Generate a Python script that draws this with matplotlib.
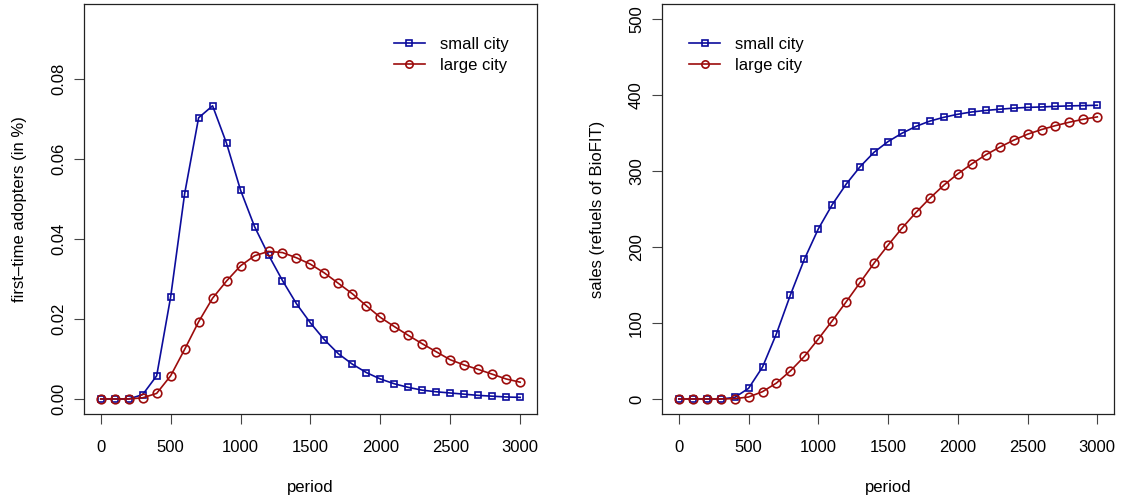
import numpy as np
import matplotlib
matplotlib.use('Agg')
import matplotlib.pyplot as plt

plt.rcParams['font.family'] = ['Liberation Sans', 'DejaVu Sans']
plt.rcParams['font.size'] = 12

period = list(range(0, 3001, 100))

# first-time adopters (in %)
adopt_small = [0.0, 0.0, 0.0, 0.0011, 0.0058, 0.0255, 0.0513, 0.0703, 0.0733, 0.0639,
               0.0522, 0.0431, 0.0360, 0.0296, 0.0238, 0.0190, 0.0148, 0.0113, 0.0087, 0.0066,
               0.0050, 0.0038, 0.0029, 0.0022, 0.0018, 0.0015, 0.0012, 0.0009, 0.0007, 0.0005,
               0.0004]
adopt_large = [0.0, 0.0, 0.0, 0.0003, 0.0014, 0.0058, 0.0124, 0.0193, 0.0252, 0.0295,
               0.0333, 0.0358, 0.0369, 0.0366, 0.0353, 0.0337, 0.0315, 0.0289, 0.0263, 0.0233,
               0.0204, 0.0181, 0.0159, 0.0138, 0.0118, 0.0098, 0.0085, 0.0074, 0.0062, 0.0050,
               0.0042]

# sales (refuels of BioFIT)
sales_small = [0, 0, 0, 0, 2, 14, 42, 86, 137, 184,
               224, 256, 283, 306, 325, 339, 350, 359, 366, 371,
               375, 378, 380, 381.6, 383, 384, 384.6, 385.4, 386, 386.4,
               386.8]
sales_large = [0, 0, 0, 0, 0.5, 2.6, 9.6, 21, 37, 56,
               79, 103, 128, 153.5, 179, 202.6, 225, 245.6, 264.5, 281.6,
               296.5, 309.6, 321.5, 331.6, 340.8, 348.7, 354.8, 360, 364.5, 368.4,
               371.5]

labels = ['small city', 'large city']
blue = '#0C0C9C'
red = '#9C0C0C'

fig = plt.figure(figsize=(11.21, 4.98), dpi=100)
ax1 = fig.add_axes([0.0749, 0.1687, 0.4041, 0.8233])
ax2 = fig.add_axes([0.5906, 0.1687, 0.4032, 0.8233])

def draw(ax, ys, ylim, yticks, yfmt, ylabel, legx):
    ax.plot(period, ys[0], color=blue, lw=1.2, marker='s', ms=5, mfc='none',
            mec=blue, mew=1.2, label=labels[0])
    ax.plot(period, ys[1], color=red, lw=1.2, marker='o', ms=6.2, mfc='none',
            mec=red, mew=1.2, label=labels[1])
    ax.set_xlim(-120, 3120)
    ax.set_ylim(*ylim)
    ax.set_xticks([0, 500, 1000, 1500, 2000, 2500, 3000])
    ax.set_yticks(yticks)
    ax.set_yticklabels([yfmt % v for v in yticks], rotation=90, va='center')
    ax.tick_params(direction='out', length=7, width=0.8, color='#444444', pad=12)
    ax.tick_params(axis='y', pad=6)
    for s in ax.spines.values():
        s.set_linewidth(0.9)
        s.set_color('#222222')
    ax.set_xlabel('period', labelpad=18)
    ax.set_ylabel(ylabel, labelpad=17)
    ax.legend(loc='upper left', bbox_to_anchor=(legx, 0.92), frameon=False,
              borderpad=0, handlelength=1.85, handletextpad=0.9,
              labelspacing=0.38, borderaxespad=0, markerscale=0.85)

draw(ax1, [adopt_small, adopt_large], (-0.00375, 0.09875), [0, 0.02, 0.04, 0.06, 0.08],
     '%.2f', 'first\u2013time adopters (in %)', 0.684)
draw(ax2, [sales_small, sales_large], (-19.75, 520.2), [0, 100, 200, 300, 400, 500],
     '%d', 'sales (refuels of BioFIT)', 0.06)

fig.savefig('out.png', dpi=100)
